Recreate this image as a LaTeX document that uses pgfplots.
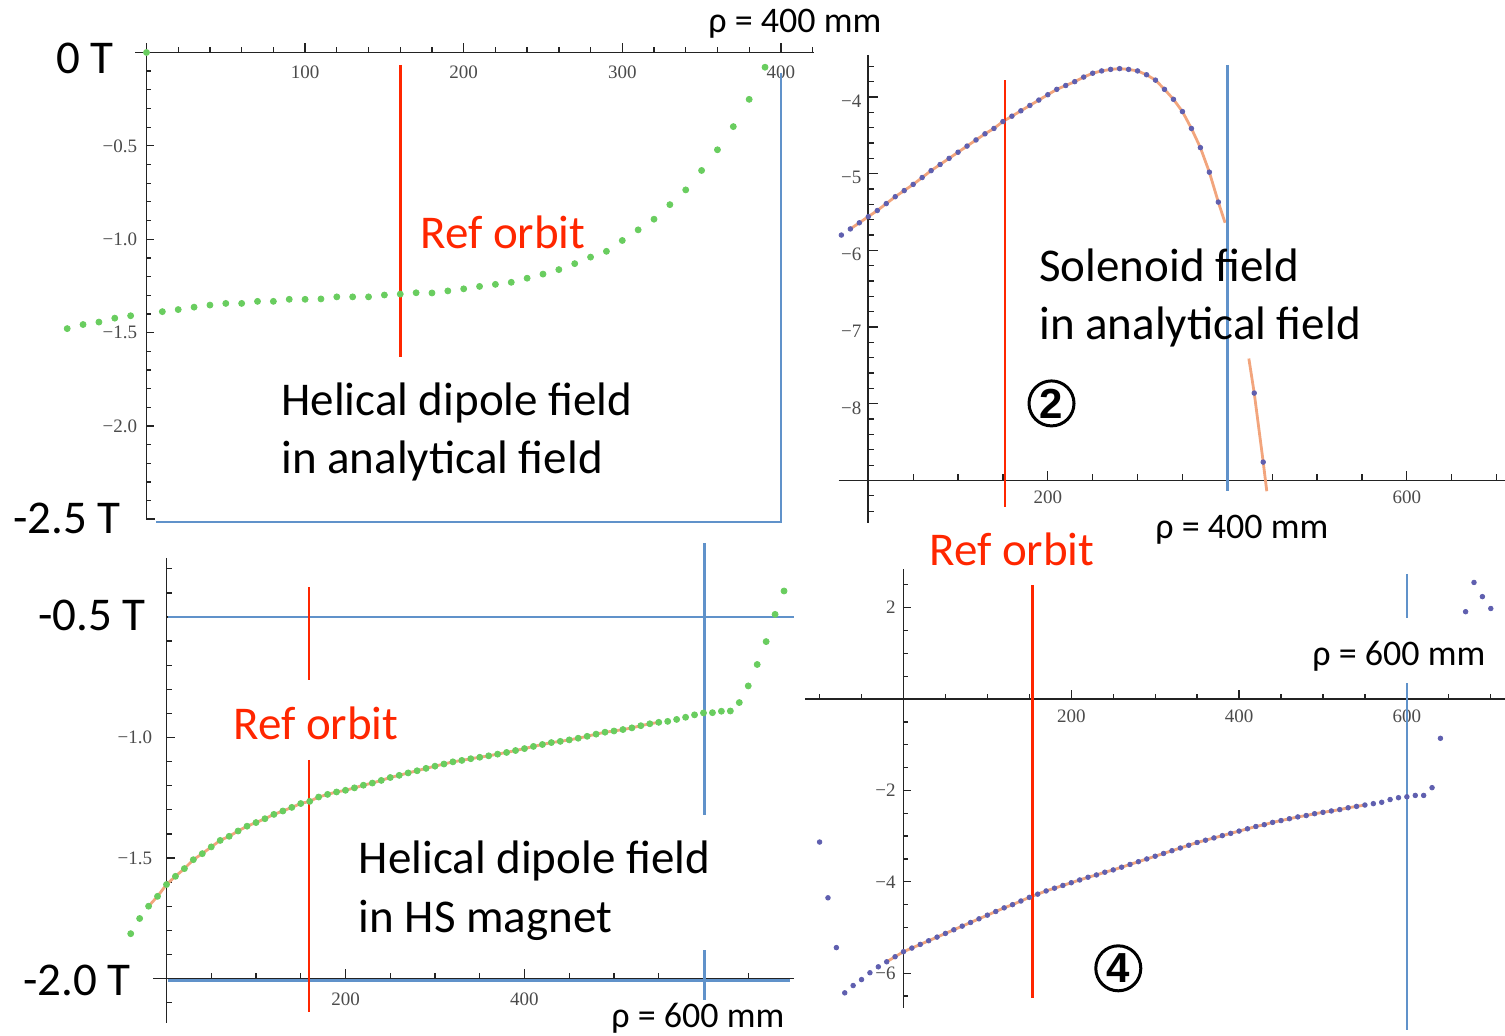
\documentclass[border=0pt]{standalone}
\usepackage{pgfplots}
\pgfplotsset{compat=1.18}
\usepackage{pgfplotstable}
\usepackage{fontspec}
\setmainfont{Carlito}
\newfontfamily\tickfont{Liberation Serif}
\newfontfamily\circfont{Liberation Sans}
\definecolor{dotgreen}{RGB}{105,205,95}
\definecolor{dotblue}{RGB}{95,95,175}
\definecolor{fitorange}{RGB}{242,165,125}
\definecolor{refred}{RGB}{255,38,0}
\definecolor{rhoblue}{RGB}{96,146,202}
\definecolor{axgray}{RGB}{35,35,35}
\definecolor{tickgray}{RGB}{75,75,75}
\tikzset{
  axln/.style={draw=axgray, line width=0.9pt},
  tk/.style={draw=axgray, line width=0.65pt},
  tl/.style={font=\tickfont\fontsize{9.5}{10}\selectfont, text=tickgray, inner sep=0pt},
  big/.style={font=\fontsize{23.5}{27}\selectfont, inner sep=0pt, anchor=base west},
  rho/.style={font=\fontsize{18}{20}\selectfont, inner sep=0pt, anchor=base west},
  circ/.style={circle, draw=black, line width=1.5pt, minimum size=22.5pt, inner sep=0pt, font=\circfont\bfseries\fontsize{21}{21}\selectfont},
  redln/.style={draw=refred, line width=1.3pt},
  bluln/.style={draw=rhoblue, line width=1.35pt}
}
\pgfplotsset{
  panel/.style={scale only axis, hide axis, clip=false, anchor=south west},
  gdot/.style={only marks, mark=*, mark size=1.5pt, color=dotgreen},
  bdot/.style={only marks, mark=*, mark size=1.15pt, color=dotblue},
  fitline/.style={no marks, color=fitorange, line width=1.4pt}
}
% Panel 1: helical dipole field, analytical
\pgfplotstableread{
x y
-50 -1.479
-40 -1.457
-30 -1.444
-20 -1.423
-10 -1.410
0 0
10 -1.388
20 -1.377
30 -1.364
40 -1.353
50 -1.344
60 -1.344
70 -1.333
80 -1.333
90 -1.322
100 -1.322
110 -1.320
120 -1.309
130 -1.309
140 -1.309
150 -1.299
160 -1.294
170 -1.287
180 -1.288
190 -1.277
200 -1.266
210 -1.253
220 -1.242
230 -1.231
240 -1.209
250 -1.187
260 -1.163
270 -1.131
280 -1.096
290 -1.065
300 -1.007
310 -0.950
320 -0.893
330 -0.815
340 -0.736
350 -0.632
360 -0.521
370 -0.397
380 -0.251
390 -0.079
}\dataA
% Panel 2: solenoid field, analytical
\pgfplotstableread{
x y
-30 -5.80
-20 -5.72
-10 -5.64
0 -5.56
10 -5.48
20 -5.39
30 -5.30
40 -5.22
50 -5.14
60 -5.05
70 -4.96
80 -4.88
90 -4.80
100 -4.72
110 -4.64
120 -4.56
130 -4.48
140 -4.41
150 -4.32
160 -4.25
170 -4.18
180 -4.11
190 -4.04
200 -3.97
210 -3.90
220 -3.85
230 -3.80
240 -3.74
250 -3.69
260 -3.66
270 -3.64
280 -3.63
290 -3.64
300 -3.66
310 -3.71
320 -3.78
330 -3.90
340 -4.03
350 -4.19
360 -4.41
370 -4.66
380 -4.98
390 -5.37
430 -7.86
440 -8.76
}\dataB
% Panel 3: helical dipole field, HS magnet
\pgfplotstableread{
x y
-40 -1.814
-30 -1.751
-20 -1.700
-10 -1.659
0 -1.610
10 -1.576
20 -1.544
30 -1.507
40 -1.482
50 -1.454
60 -1.427
70 -1.410
80 -1.388
90 -1.368
100 -1.353
110 -1.337
120 -1.319
130 -1.305
140 -1.290
150 -1.274
160 -1.265
170 -1.247
180 -1.236
190 -1.226
200 -1.219
210 -1.209
220 -1.198
230 -1.189
240 -1.178
250 -1.166
260 -1.157
270 -1.147
280 -1.138
290 -1.128
300 -1.119
310 -1.110
320 -1.101
330 -1.095
340 -1.088
350 -1.082
360 -1.076
370 -1.069
380 -1.062
390 -1.054
400 -1.046
410 -1.037
420 -1.029
430 -1.021
440 -1.016
450 -1.010
460 -1.003
470 -0.995
480 -0.986
490 -0.978
500 -0.973
510 -0.967
520 -0.960
530 -0.951
540 -0.943
550 -0.937
560 -0.933
570 -0.925
580 -0.916
590 -0.906
600 -0.898
610 -0.897
620 -0.891
630 -0.890
640 -0.855
650 -0.786
660 -0.697
670 -0.602
680 -0.489
690 -0.392
}\dataC
% Panel 4: solenoid field, HS magnet
\pgfplotstableread{
x y
-100 -3.13
-90 -4.35
-80 -5.44
-70 -6.43
-60 -6.27
-50 -6.14
-40 -5.99
-30 -5.86
-20 -5.75
-10 -5.64
0 -5.53
10 -5.45
20 -5.37
30 -5.29
40 -5.21
50 -5.13
60 -5.05
70 -4.97
80 -4.89
90 -4.81
100 -4.73
110 -4.65
120 -4.57
130 -4.50
140 -4.42
150 -4.34
160 -4.27
170 -4.20
180 -4.14
190 -4.08
200 -4.02
210 -3.96
220 -3.90
230 -3.85
240 -3.79
250 -3.74
260 -3.68
270 -3.62
280 -3.56
290 -3.50
300 -3.44
310 -3.38
320 -3.32
330 -3.26
340 -3.20
350 -3.14
360 -3.09
370 -3.04
380 -2.99
390 -2.94
400 -2.89
410 -2.84
420 -2.79
430 -2.75
440 -2.70
450 -2.66
460 -2.62
470 -2.58
480 -2.55
490 -2.51
500 -2.48
510 -2.45
520 -2.42
530 -2.38
540 -2.35
550 -2.32
560 -2.29
570 -2.26
580 -2.20
590 -2.16
600 -2.14
610 -2.11
620 -2.11
630 -1.94
640 -0.86
670 1.91
680 2.55
690 2.24
700 1.98
}\dataD
\begin{document}
\begin{tikzpicture}
\path[use as bounding box] (0,0) rectangle (752.5pt,-517.5pt);

%================ Panel 1 =================
\begin{axis}[panel, at={(25.67pt,-268.95pt)}, width=384.6pt, height=252.05pt,
  xmin=-60, xmax=425, ymin=-2.6, ymax=0.1]
\draw[axln] (axis cs:-7.2,0) -- (axis cs:421,0);
\draw[axln] (axis cs:0,0.05) -- (axis cs:0,-2.5) -- ([xshift=4.5pt]axis cs:0,-2.5);
\pgfplotsinvokeforeach{20,40,60,80,120,140,160,180,220,240,260,280,320,340,360,380,420}{
  \draw[tk] (axis cs:#1,0) -- ([yshift=2.5pt]axis cs:#1,0);}
\pgfplotsinvokeforeach{100,200,300,400}{
  \draw[tk] (axis cs:#1,0) -- ([yshift=4.5pt]axis cs:#1,0);
  \node[tl] at ([yshift=-9.75pt]axis cs:#1,0) {#1};}
\pgfplotsinvokeforeach{-0.1,-0.2,-0.3,-0.4,-0.6,-0.7,-0.8,-0.9,-1.1,-1.2,-1.3,-1.4,-1.6,-1.7,-1.8,-1.9,-2.1,-2.2,-2.3,-2.4}{
  \draw[tk] (axis cs:0,#1) -- ([xshift=2.5pt]axis cs:0,#1);}
\pgfplotsinvokeforeach{-0.5,-1.0,-1.5,-2.0}{
  \draw[tk] (axis cs:0,#1) -- ([xshift=4pt]axis cs:0,#1);}
\node[tl, anchor=east] at ([xshift=-4.5pt]axis cs:0,-0.5) {−0.5};
\node[tl, anchor=east] at ([xshift=-4.5pt]axis cs:0,-1.0) {−1.0};
\node[tl, anchor=east] at ([xshift=-4.5pt]axis cs:0,-1.5) {−1.5};
\node[tl, anchor=east] at ([xshift=-4.5pt]axis cs:0,-2.0) {−2.0};
\addplot[gdot] table {\dataA};
\draw[redln] (axis cs:160,-0.067) -- (axis cs:160,-1.63);
\draw[bluln] (axis cs:400,-0.11) -- (axis cs:400,-2.515) -- (axis cs:6,-2.515);
\end{axis}

%================ Panel 2 =================
\begin{axis}[panel, at={(416.2pt,-263.25pt)}, width=336.56pt, height=241.6pt,
  xmin=-40, xmax=710, ymin=-9.6, ymax=-3.3]
\draw[axln] (axis cs:-33,-9) -- (axis cs:710,-9);
\draw[axln] (axis cs:0,-3.45) -- (axis cs:0,-9.56);
\pgfplotsinvokeforeach{50,100,150,250,300,350,450,500,550,650,700}{
  \draw[tk] (axis cs:#1,-9) -- ([yshift=3pt]axis cs:#1,-9);}
\pgfplotsinvokeforeach{200,400,600}{
  \draw[tk] (axis cs:#1,-9) -- ([yshift=4.5pt]axis cs:#1,-9);}
\node[tl] at ([yshift=-8.25pt]axis cs:200,-9) {200};
\node[tl] at ([yshift=-8.25pt]axis cs:600,-9) {600};
\pgfplotsinvokeforeach{-3.6,-3.8,-4.2,-4.4,-4.6,-4.8,-5.2,-5.4,-5.6,-5.8,-6.2,-6.4,-6.6,-6.8,-7.2,-7.4,-7.6,-7.8,-8.2,-8.4,-8.6,-8.8,-9.2,-9.4}{
  \draw[tk] (axis cs:0,#1) -- ([xshift=3pt]axis cs:0,#1);}
\pgfplotsinvokeforeach{-4,-5,-6,-7,-8}{
  \draw[tk] (axis cs:0,#1) -- ([xshift=5pt]axis cs:0,#1);}
\node[tl, anchor=east] at ([xshift=-3.3pt,yshift=-2pt]axis cs:0,-4) {−4};
\node[tl, anchor=east] at ([xshift=-3.3pt,yshift=-2pt]axis cs:0,-5) {−5};
\node[tl, anchor=east] at ([xshift=-3.3pt,yshift=-2pt]axis cs:0,-6) {−6};
\node[tl, anchor=east] at ([xshift=-3.3pt,yshift=-2pt]axis cs:0,-7) {−7};
\node[tl, anchor=east] at ([xshift=-3.3pt,yshift=-2pt]axis cs:0,-8) {−8};
\addplot[fitline, restrict x to domain=-20:390] table {\dataB};
\addplot[fitline] coordinates {(390,-5.37) (397.5,-5.64)};
\addplot[fitline] coordinates {(424,-7.41) (430,-7.86) (440,-8.76) (444,-9.14)};
\addplot[bdot] table {\dataB};
\draw[redln] (axis cs:152.3,-3.78) -- (axis cs:152.3,-9.35);
\draw[bluln] (axis cs:400,-3.58) -- (axis cs:400,-9.14);
\end{axis}

%================ Panel 3 =================
\begin{axis}[panel, at={(60.875pt,-516.95pt)}, width=337.86pt, height=244.6pt,
  xmin=-50, xmax=705, ymin=-2.23, ymax=-0.2]
\draw[axln] (axis cs:-15,-2) -- (axis cs:701,-2);
\draw[axln] (axis cs:0,-0.255) -- (axis cs:0,-2.185);
\pgfplotsinvokeforeach{50,100,150,250,300,350,450,500,550,650}{
  \draw[tk] (axis cs:#1,-2) -- ([yshift=2.5pt]axis cs:#1,-2);}
\pgfplotsinvokeforeach{200,400,600}{
  \draw[tk] (axis cs:#1,-2) -- ([yshift=4.5pt]axis cs:#1,-2);}
\node[tl] at ([yshift=-10.25pt]axis cs:200,-2) {200};
\node[tl] at ([yshift=-10.25pt]axis cs:400,-2) {400};
\pgfplotsinvokeforeach{-0.3,-0.4,-0.6,-0.7,-0.8,-0.9,-1.1,-1.2,-1.3,-1.4,-1.6,-1.7,-1.8,-1.9,-2.1}{
  \draw[tk] (axis cs:0,#1) -- ([xshift=2.5pt]axis cs:0,#1);}
\pgfplotsinvokeforeach{-0.5,-1.0,-1.5}{
  \draw[tk] (axis cs:0,#1) -- ([xshift=4pt]axis cs:0,#1);}
\node[tl, anchor=east] at ([xshift=-7pt]axis cs:0,-1.0) {−1.0};
\node[tl, anchor=east] at ([xshift=-7pt]axis cs:0,-1.5) {−1.5};
\addplot[fitline, restrict x to domain=-20:550] table {\dataC};
\addplot[gdot] table {\dataC};
\draw[bluln] (axis cs:1.7,-0.5) -- (axis cs:701,-0.5);
\draw[bluln] (axis cs:1.7,-2.007) -- (axis cs:697,-2.007);
\draw[bluln] (axis cs:601,-0.193) -- (axis cs:601,-1.322);
\draw[bluln] (axis cs:601,-1.882) -- (axis cs:601,-2.089);
\draw[redln] (axis cs:159.2,-0.376) -- (axis cs:159.2,-0.761);
\draw[redln] (axis cs:159.2,-1.093) -- (axis cs:159.2,-2.139);
\end{axis}

%================ Panel 4 =================
\begin{axis}[panel, at={(401.4pt,-516.3pt)}, width=352.38pt, height=235.36pt,
  xmin=-120, xmax=720, ymin=-7.3, ymax=3.0]
\draw[axln] (axis cs:-117,0) -- (axis cs:720,0);
\draw[axln] (axis cs:0,2.84) -- (axis cs:0,-6.76);
\pgfplotsinvokeforeach{-100,-50,50,100,150,250,300,350,450,500,550,650,700}{
  \draw[tk] (axis cs:#1,0) -- ([yshift=2.5pt]axis cs:#1,0);}
\pgfplotsinvokeforeach{200,400,600}{
  \draw[tk] (axis cs:#1,0) -- ([yshift=4.5pt]axis cs:#1,0);
  \node[tl] at ([yshift=-8.85pt]axis cs:#1,0) {#1};}
\pgfplotsinvokeforeach{2.5,1.5,1,0.5,-0.5,-1,-1.5,-2.5,-3,-3.5,-4.5,-5,-5.5,-6.5}{
  \draw[tk] (axis cs:0,#1) -- ([xshift=2.5pt]axis cs:0,#1);}
\pgfplotsinvokeforeach{2,-2,-4,-6}{
  \draw[tk] (axis cs:0,#1) -- ([xshift=4pt]axis cs:0,#1);}
\node[tl, anchor=east] at ([xshift=-3.75pt]axis cs:0,2) {2};
\node[tl, anchor=east] at ([xshift=-3.75pt]axis cs:0,-2) {−2};
\node[tl, anchor=east] at ([xshift=-3.75pt]axis cs:0,-4) {−4};
\node[tl, anchor=east] at ([xshift=-3.75pt]axis cs:0,-6) {−6};
\addplot[fitline, restrict x to domain=-20:550] table {\dataD};
\addplot[bdot] table {\dataD};
\draw[redln] (axis cs:153.8,2.49) -- (axis cs:153.8,-6.54);
\draw[bluln] (axis cs:600.1,2.74) -- (axis cs:600.1,1.77);
\draw[bluln] (axis cs:600.1,0.35) -- (axis cs:600.1,-7.24);
\end{axis}

%================ Annotations (pixel frame, y down) =================
\begin{scope}[x=0.5pt,y=-0.5pt]
\node[big] at (56,73) {0 T};
\node[big] at (12.7,533) {-2.5 T};
\node[rho] at (708,32) {ρ = 400 mm};
\node[big, text=refred] at (420,248) {Ref orbit};
\node[big] at (281,415.5) {Helical dipole field};
\node[big] at (281,473) {in analytical field};
\node[big] at (1039,281) {Solenoid field};
\node[big] at (1039,339) {in analytical field};
\node[circ] at (1051.5,403.4) {2};
\node[rho] at (1155,538) {ρ = 400 mm};
\node[big, text=refred] at (929,565) {Ref orbit};
\node[big] at (38,630) {-0.5 T};
\node[big] at (22.8,995) {-2.0 T};
\node[big, text=refred] at (233,739) {Ref orbit};
\node[big] at (358.5,873) {Helical dipole field};
\node[big] at (358.5,932) {in HS magnet};
\node[rho] at (611,1027) {ρ = 600 mm};
\node[rho] at (1312,665) {ρ = 600 mm};
\node[circ] at (1118.3,968.3) {4};
\end{scope}
\end{tikzpicture}
\end{document}
